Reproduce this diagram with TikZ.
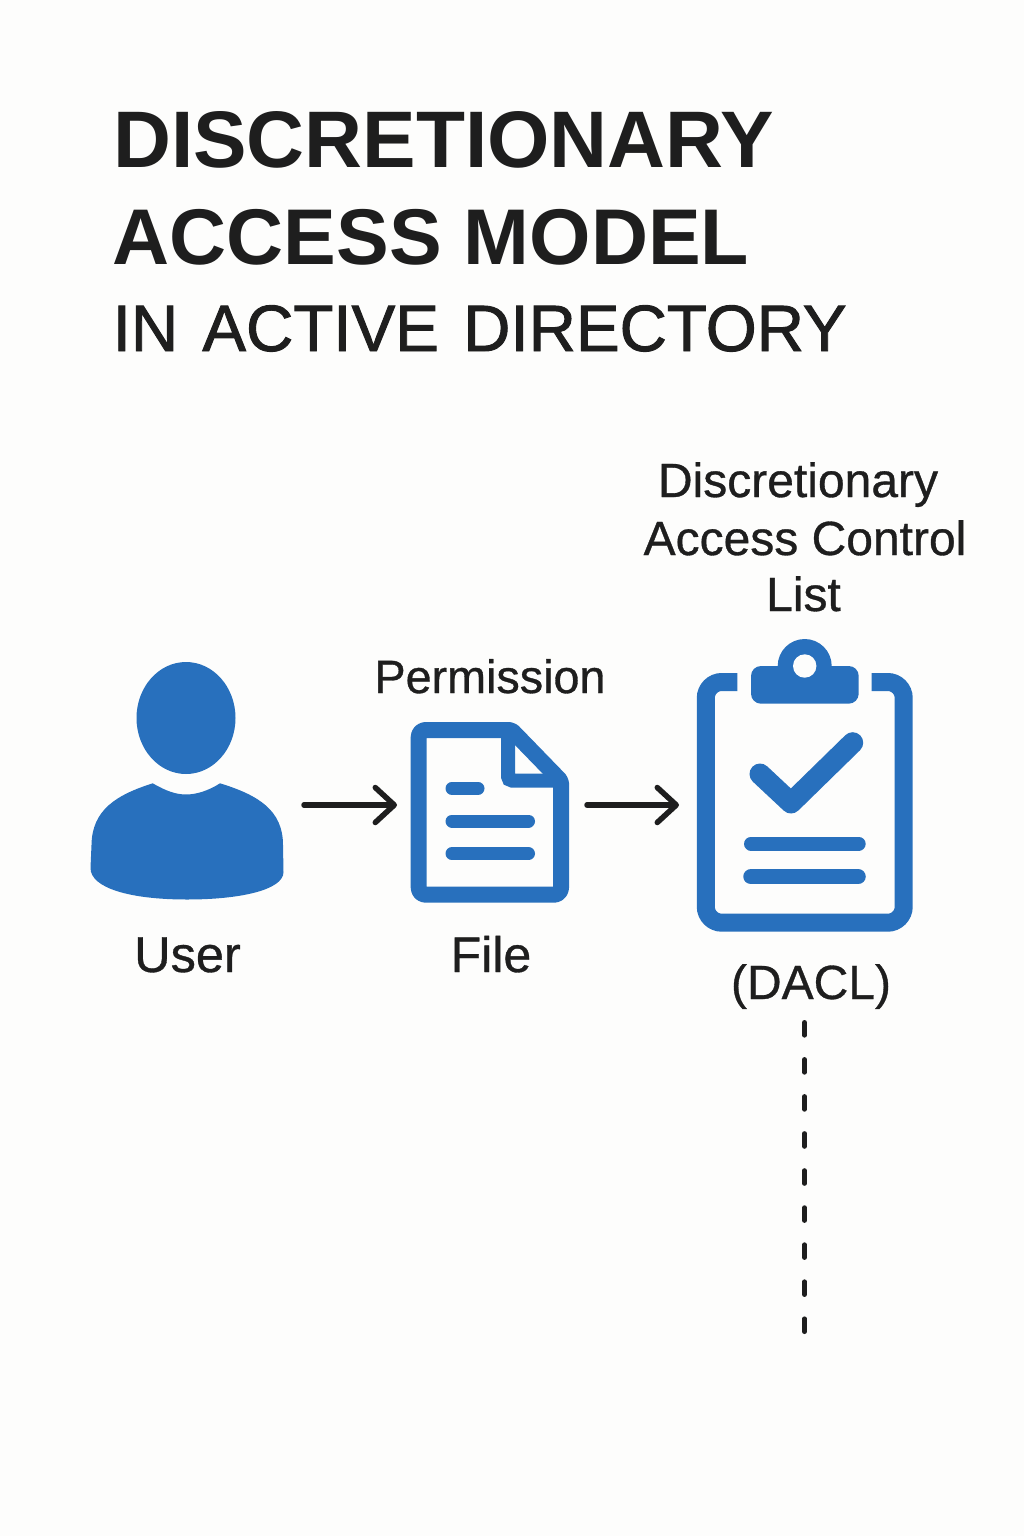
\documentclass[tikz,border=0pt]{standalone}
\usepackage{fontspec}
\setmainfont{Liberation Sans}
\newfontfamily\titlefont{Liberation Sans Bold}
\newfontfamily\subfont{Liberation Sans}[FakeBold=1.4]
\newfontfamily\labfont{Liberation Sans}[FakeBold=0.7]
\usetikzlibrary{arrows.meta}
\definecolor{bgc}{HTML}{FDFDFC}
\definecolor{ink}{HTML}{1E1E1E}
\definecolor{iconblue}{HTML}{2870BD}
\tikzset{
  x=1pt,y=-1pt,
  titlebig/.style={anchor=base west,inner sep=0pt,text=ink,font=\titlefont\fontsize{#1}{#1}\selectfont},
  titlesub/.style={anchor=base west,inner sep=0pt,text=ink,font=\subfont\fontsize{65.5}{66}\selectfont},
  lab/.style={anchor=base,inner sep=0pt,text=ink,font=\labfont\fontsize{#1}{#1}\selectfont},
  iconline/.style={draw=iconblue,line cap=round,line width=13pt},
  iconframe/.style={draw=iconblue,line width=16pt,line join=round},
  flow/.style={draw=ink,line width=5.5pt,line cap=round,line join=round,-{Straight Barb[length=19pt,width=35pt,line width=5.5pt,round]}},
  dashlink/.style={draw=ink,line width=4.6pt,line cap=round,dash pattern=on 13pt off 24.05pt},
}
\begin{document}
\begin{tikzpicture}
\useasboundingbox (0,0) rectangle (1024,1536);
\fill[bgc] (0,0) rectangle (1024,1536);

\node[titlebig=80.2] (t1) at (113,167) {DISCRETIONARY};
\node[titlebig=79] (t2) at (112.5,264) {ACCESS MODEL};
\node[titlesub] (t3) at (112.5,351) {IN \hspace{6pt}ACTIVE \hspace{6pt}DIRECTORY};

% user
\fill[iconblue] (186,718) ellipse [x radius=49.5,y radius=56];
\fill[iconblue] (152.7,783.3) .. controls (166,791) and (176,794.5) .. (186,794.5)
  .. controls (196,794.5) and (208,791) .. (220,783.3)
  .. controls (258,795) and (283,810) .. (283,845)
  -- (283.5,872) .. controls (283.5,890) and (240,899.5) .. (187,899.5)
  .. controls (130,899.5) and (90.5,888) .. (90.5,868)
  -- (91.5,845) .. controls (92,810) and (116,795) .. (152.7,783.3) -- cycle;

% file
\draw[iconframe,rounded corners=7pt] (418.7,790) -- (418.7,730) -- (490,730) [rounded corners=2pt] -- (511.5,730) -- (561,781) [rounded corners=7pt] -- (561,894.7) -- (418.7,894.7) -- cycle;
\draw[draw=iconblue,line width=14pt,rounded corners=4pt] (508,730) -- (508,780.5) -- (561,780.5);
\draw[iconline] (452,788.3) -- (478,788.3);
\draw[iconline] (452,821) -- (528.5,821);
\draw[iconline] (452,853.7) -- (528.5,853.7);

% clipboard
\draw[draw=iconblue,line width=18pt,rounded corners=16pt] (737.3,682) -- (705.8,682) -- (705.8,922.7) -- (903.7,922.7) -- (903.7,682) -- (871.7,682);
\fill[iconblue] (804.7,666) circle [radius=27];
\fill[iconblue,rounded corners=10pt] (751,666) rectangle (858.7,703.7);
\fill[bgc] (804.7,666) circle [radius=11.7];
\draw[draw=iconblue,line width=21pt,line cap=round,line join=round] (760,774) -- (791,803) -- (852.7,742.7);
\draw[iconline,line width=14pt] (751,843.7) -- (858.7,843.7);
\draw[iconline,line width=15.5pt] (751,876.7) -- (858,876.7);

% anchors of the icons
\coordinate (userport) at (304,805);
\coordinate (fileinport) at (397,805);
\coordinate (fileoutport) at (587,805);
\coordinate (daclport) at (679,805);
\coordinate (daclbottom) at (804.5,1022.3);
\coordinate (dashend) at (804.5,1332);
\draw[flow] (userport) -- (fileinport);
\draw[flow] (fileoutport) -- (daclport);
\draw[dashlink] (daclbottom) -- (dashend);

\node[lab=50.5] (luser) at (187.5,972) {User};
\node[lab=50] (lfile) at (491,972) {File};
\node[lab=46.7] (lperm) at (490,693) {Permission};
\node[lab=48] (ld1) at (798,497) {Discretionary};
\node[lab=48] (ld2) at (805,555) {Access Control};
\node[lab=48] (ld3) at (803.5,611) {List};
\node[lab=48] (ldacl) at (811,999) {(DACL)};
\end{tikzpicture}
\end{document}
